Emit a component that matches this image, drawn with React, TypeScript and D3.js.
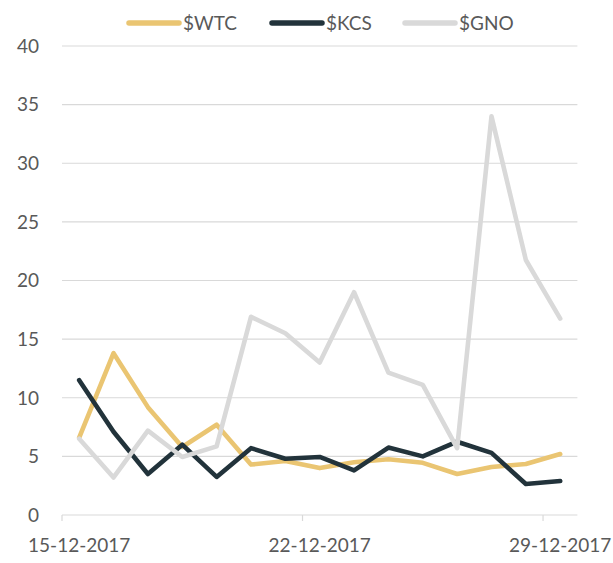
import * as d3 from 'd3';

const dates = [
  '15-12-2017', '16-12-2017', '17-12-2017', '18-12-2017', '19-12-2017',
  '20-12-2017', '21-12-2017', '22-12-2017', '23-12-2017', '24-12-2017',
  '25-12-2017', '26-12-2017', '27-12-2017', '28-12-2017', '29-12-2017',
];
const labeledDates = ['15-12-2017', '22-12-2017', '29-12-2017'];

const wtc = [6.6, 13.8, 9.2, 5.8, 7.7, 4.3, 4.6, 4.0, 4.5, 4.75, 4.45, 3.5, 4.1, 4.35, 5.2];
const kcs = [11.5, 7.1, 3.5, 6.0, 3.25, 5.7, 4.8, 4.95, 3.8, 5.75, 5.0, 6.25, 5.3, 2.65, 2.9];
const gno = [6.5, 3.2, 7.2, 4.95, 5.85, 16.9, 15.5, 13.0, 19.0, 12.15, 11.1, 5.7, 34.0, 21.75, 16.75];

const yTicks = [0, 5, 10, 15, 20, 25, 30, 35, 40];

const seriesNames = ['$WTC', '$KCS', '$GNO'];
const seriesColors = ['#EAC572', '#22333B', '#D9D9D9'];

const W = 613;
const H = 563;
const FONT = 'Lato, "Open Sans", sans-serif';
const TEXT = '#595959';
const GRID = '#D9D9D9';

export default function App() {
  const x = d3.scaleBand<string>().domain(dates).range([62, 577.4]);
  const y = d3.scaleLinear().domain([0, 40]).range([515, 46]);
  const line = d3
    .line<number>()
    .x((_, i) => (x(dates[i]) ?? 0) + x.bandwidth() / 2)
    .y(d => y(d));

  const series = [wtc, kcs, gno];
  const legendX = [127, 270, 403];

  return (
    <svg width={W} height={H} style={{ position: 'absolute', left: 0, top: 0, background: '#fff' }}>
      {/* grid + y labels */}
      {yTicks.map(t => (
        <g key={t}>
          <line x1={62} x2={577.4} y1={y(t)} y2={y(t)} stroke={GRID} strokeWidth={1.2} />
          <text x={39} y={y(t)} dy="0.36em" textAnchor="end" fontSize={19} fontFamily={FONT} fill={TEXT}>
            {t}
          </text>
        </g>
      ))}

      {/* x ticks and labels */}
      {labeledDates.map(d => {
        const x0 = x(d) ?? 0;
        return (
          <g key={d}>
            <line x1={x0} x2={x0} y1={y(0)} y2={y(0) + 6} stroke={GRID} strokeWidth={1.2} />
            <text x={x0 + x.bandwidth() / 2} y={545} dy="0.36em" textAnchor="middle" fontSize={19} fontFamily={FONT} fill={TEXT}>
              {d}
            </text>
          </g>
        );
      })}

      {/* lines */}
      {series.map((s, i) => (
        <path
          key={seriesNames[i]}
          d={line(s) ?? ''}
          fill="none"
          stroke={seriesColors[i]}
          strokeWidth={4.6}
          strokeLinejoin="round"
          strokeLinecap="round"
        />
      ))}

      {/* legend */}
      {seriesNames.map((n, i) => (
        <g key={n}>
          <line
            x1={legendX[i] + 2}
            x2={legendX[i] + 52}
            y1={23}
            y2={23}
            stroke={seriesColors[i]}
            strokeWidth={5.5}
            strokeLinecap="round"
          />
          <text x={legendX[i] + 56} y={23} dy="0.36em" fontSize={19} fontFamily={FONT} fill={TEXT}>
            {n}
          </text>
        </g>
      ))}
    </svg>
  );
}
